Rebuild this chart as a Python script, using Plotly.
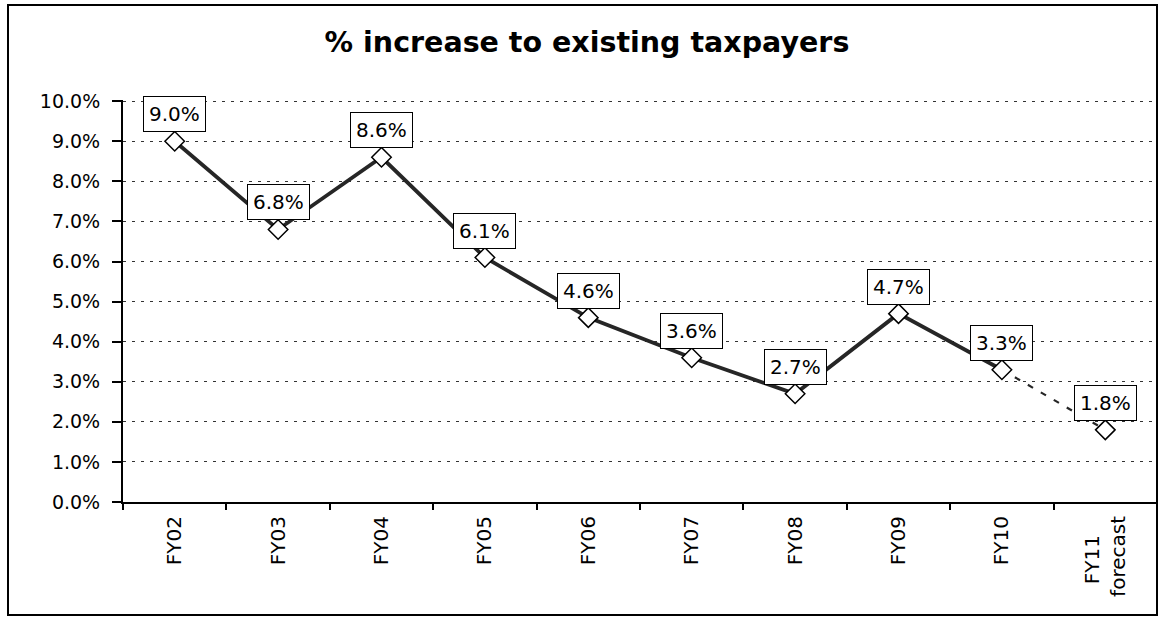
import plotly.graph_objects as go

# ---- data ----
categories = ["FY02", "FY03", "FY04", "FY05", "FY06", "FY07", "FY08", "FY09", "FY10", "FY11"]
tick_labels = ["FY02", "FY03", "FY04", "FY05", "FY06", "FY07", "FY08", "FY09", "FY10",
               "FY11\u00a0\u00a0\u00a0<br>forecast"]
values = [9.0, 6.8, 8.6, 6.1, 4.6, 3.6, 2.7, 4.7, 3.3, 1.8]
value_labels = ["9.0%", "6.8%", "8.6%", "6.1%", "4.6%", "3.6%", "2.7%", "4.7%", "3.3%", "1.8%"]
n_actual = 9  # FY02..FY10 actual, FY11 forecast
title_text = "% increase to existing taxpayers"

FONT = "DejaVu Sans"
LINE_COLOR = "#262626"

fig = go.Figure()

# actual series (solid)
fig.add_trace(go.Scatter(
    x=categories[:n_actual], y=values[:n_actual], mode="lines",
    line=dict(color=LINE_COLOR, width=3.8), hoverinfo="skip", showlegend=False))

# forecast segment (dashed)
fig.add_trace(go.Scatter(
    x=categories[n_actual - 1:], y=values[n_actual - 1:], mode="lines",
    line=dict(color=LINE_COLOR, width=2.2, dash="6px,9px"), hoverinfo="skip", showlegend=False))

# markers
fig.add_trace(go.Scatter(
    x=categories, y=values, mode="markers",
    marker=dict(symbol="diamond", size=15, color="white",
                line=dict(color="black", width=1.5)),
    showlegend=False))

# data labels in boxes
for c, v, t in zip(categories, values, value_labels):
    fig.add_annotation(
        x=c, y=v, text=t, showarrow=False, yshift=27,
        font=dict(family=FONT, size=20, color="black"),
        bgcolor="white", bordercolor="black", borderwidth=1, borderpad=5)

# outer frame
L, R, T, B = 123, 2, 100, 115
W, H = 1159, 617
pw, ph = W - L - R, H - T - B
fig.add_shape(type="rect", xref="paper", yref="paper",
              x0=(8 - L) / pw, x1=(1157 - L) / pw,
              y0=(H - B - 615) / ph, y1=(H - B - 5) / ph,
              line=dict(color="black", width=2), fillcolor="rgba(0,0,0,0)", layer="below")

fig.update_layout(
    width=W, height=H,
    margin=dict(l=L, r=R, t=T, b=B),
    paper_bgcolor="white", plot_bgcolor="white",
    font=dict(family=FONT, size=20, color="black"),
    title=dict(text="<b>" + title_text + "</b>", x=587 / W, xanchor="center",
               y=1 - 42 / H, yanchor="middle",
               font=dict(family=FONT, size=28.5, color="black")),
    xaxis=dict(
        type="category", categoryorder="array", categoryarray=categories,
        tickmode="array", tickvals=categories, ticktext=tick_labels,
        range=[-0.5, len(categories) - 0.5],
        tickson="boundaries", ticks="outside", ticklen=6, tickwidth=1.5, tickcolor="black",
        showline=True, linecolor="black", linewidth=2,
        showgrid=False, tickangle=-90, ticklabelstandoff=4,
        tickfont=dict(family=FONT, size=20, color="black")),
    yaxis=dict(
        range=[0, 10.03], dtick=1, tick0=0, tickformat=".1f", ticksuffix="%",
        ticks="outside", ticklen=9, tickwidth=1.5, tickcolor="black",
        showline=True, linecolor="black", linewidth=2,
        showgrid=True, gridcolor="#333333", gridwidth=1.2, griddash="3px,6px",
        zeroline=False, ticklabelstandoff=8,
        tickfont=dict(family=FONT, size=19, color="black")),
)

fig.write_html("out.html", config={"displayModeBar": False},
               post_script="document.body.style.margin='0';document.body.style.overflow='hidden';")
